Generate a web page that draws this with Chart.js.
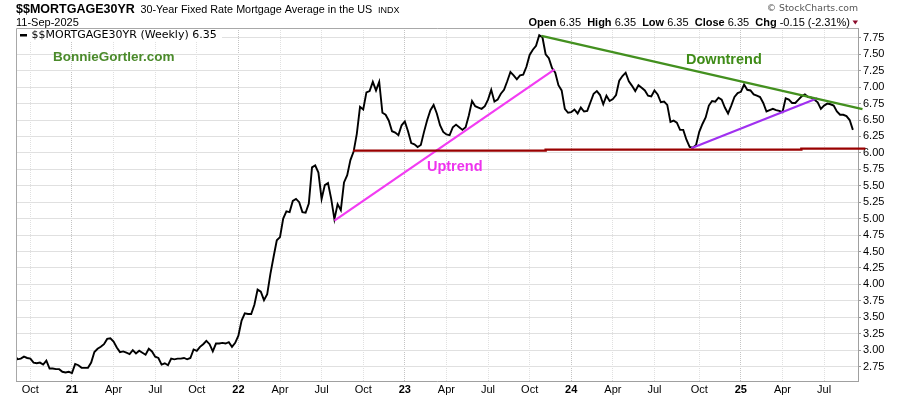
<!DOCTYPE html>
<html>
<head>
<meta charset="utf-8">
<script src="https://cdn.jsdelivr.net/npm/chart.js@4.4.1/dist/chart.umd.min.js"></script>
<style>
  html, body { margin: 0; padding: 0; background: #fff; }
</style>
</head>
<body>
<canvas id="chartCanvas" width="900" height="396"></canvas>
<script>
// weekly PMMS readings, one array per calendar year, first reading 3-Sep-2020
const firstWeek = '2020-09-03';
const rates2020 = [2.93, 2.86, 2.87, 2.90, 2.88, 2.87, 2.81, 2.80, 2.81, 2.78, 2.84, 2.72, 2.72, 2.71, 2.71, 2.67, 2.66, 2.67];
const rates2021 = [2.65, 2.79, 2.77, 2.73, 2.73, 2.73, 2.81, 2.97, 3.02, 3.05, 3.09, 3.17, 3.18, 3.13, 3.04, 2.97, 2.98,
    2.96, 2.94, 3.00, 2.95, 2.99, 2.96, 2.93, 3.02, 2.98, 2.90, 2.88, 2.78, 2.80, 2.77, 2.87, 2.86, 2.87, 2.87,
    2.88, 2.86, 2.88, 3.01, 2.99, 3.05, 3.09, 3.14, 3.09, 2.98, 3.10, 3.10, 3.11, 3.10, 3.12, 3.05, 3.11];
const rates2022 = [3.22, 3.45, 3.56, 3.55, 3.55, 3.69, 3.92, 3.89, 3.76, 3.85, 4.16, 4.42, 4.67, 4.72, 5.00, 5.11, 5.10,
    5.27, 5.30, 5.25, 5.10, 5.09, 5.23, 5.78, 5.81, 5.70, 5.30, 5.51, 5.54, 5.30, 4.99, 5.22, 5.13, 5.55, 5.66,
    5.89, 6.02, 6.29, 6.70, 6.66, 6.92, 6.94, 7.08, 6.95, 7.08, 6.61, 6.58, 6.49, 6.33, 6.31, 6.27, 6.42];
const rates2023 = [6.48, 6.33, 6.15, 6.13, 6.09, 6.12, 6.32, 6.50, 6.65, 6.73, 6.60, 6.42, 6.32, 6.28, 6.27, 6.39, 6.43,
    6.39, 6.35, 6.39, 6.57, 6.79, 6.71, 6.69, 6.67, 6.71, 6.81, 6.96, 6.78, 6.81, 6.90, 6.96, 7.09, 7.23, 7.18,
    7.12, 7.18, 7.19, 7.31, 7.49, 7.57, 7.63, 7.79, 7.76, 7.50, 7.44, 7.29, 7.22, 7.03, 6.95, 6.67, 6.61];
const rates2024 = [6.62, 6.66, 6.60, 6.69, 6.63, 6.64, 6.77, 6.90, 6.94, 6.88, 6.74, 6.87, 6.79, 6.82, 6.88, 7.10, 7.17,
    7.22, 7.09, 7.02, 6.94, 7.03, 6.99, 6.95, 6.87, 6.86, 6.95, 6.89, 6.77, 6.78, 6.73, 6.47, 6.49, 6.46, 6.35,
    6.35, 6.20, 6.09, 6.08, 6.12, 6.32, 6.44, 6.54, 6.72, 6.79, 6.78, 6.84, 6.81, 6.69, 6.60, 6.72, 6.85];
const rates2025 = [6.91, 6.93, 7.04, 6.96, 6.95, 6.89, 6.87, 6.85, 6.76, 6.63, 6.65, 6.67, 6.65, 6.64, 6.62, 6.83, 6.81,
    6.76, 6.76, 6.81, 6.86, 6.89, 6.85, 6.84, 6.81, 6.77, 6.67, 6.72, 6.75, 6.74, 6.72, 6.63, 6.58, 6.58, 6.56,
    6.50, 6.35];

// hand-drawn lines, [week number, rate]
const uptrendLine = [[100, 4.97], [168.8, 7.27]];
const downtrendLine = [[164.7, 7.78], [265.0, 6.665]];
const supportLine = [[105.8, 6.035], [166, 6.035], [166, 6.05], [245.9, 6.05], [245.9, 6.065], [265.9, 6.065]];
const risingLine = [[211.5, 6.07], [250.9, 6.83]];

const yTicks = [2.75, 3.00, 3.25, 3.50, 3.75, 4.00, 4.25, 4.50, 4.75, 5.00, 5.25, 5.50, 5.75, 6.00, 6.25, 6.50,
    6.75, 7.00, 7.25, 7.50, 7.75];
const quarterStarts = ['2020-10-01', '2021-01-01', '2021-04-01', '2021-07-01', '2021-10-01', '2022-01-01', '2022-04-01',
    '2022-07-01', '2022-10-01', '2023-01-01', '2023-04-01', '2023-07-01', '2023-10-01', '2024-01-01', '2024-04-01',
    '2024-07-01', '2024-10-01', '2025-01-01', '2025-04-01', '2025-07-01'];
const quarterLabels = ['Oct', '21', 'Apr', 'Jul', 'Oct', '22', 'Apr', 'Jul', 'Oct', '23', 'Apr', 'Jul', 'Oct', '24',
    'Apr', 'Jul', 'Oct', '25', 'Apr', 'Jul'];

document.addEventListener('DOMContentLoaded', () => {
    const ctx = document.getElementById('chartCanvas').getContext('2d');
    const DAY = 86400000;
    const t0 = Date.parse(firstWeek);
    const rates = [].concat(rates2020, rates2021, rates2022, rates2023, rates2024, rates2025);

    // a month's gridline sits on the first weekly bar whose week (Monday) starts inside that month
    const xTicks = quarterStarts.map(s => {
        const m = Date.parse(s);
        return rates.findIndex((v, i) => t0 + (7 * i - 3) * DAY >= m);
    });
    const yearTicks = new Set(xTicks.filter((v, i) => /^\d+$/.test(quarterLabels[i])));
    const isYear = c => !!(c.tick && yearTicks.has(c.tick.value));

    function trend(points, color, width) {
        return {
            data: points.map(p => ({ x: p[0], y: p[1] })),
            borderColor: color,
            borderWidth: width,
            pointRadius: 0,
            clip: false,
            order: 0
        };
    }

    const header = {
        id: 'header',
        afterDraw(chart) {
            const { ctx, chartArea: a, scales: { x, y } } = chart;
            ctx.save();

            // frame top and left
            ctx.strokeStyle = '#a8a8a8';
            ctx.lineWidth = 1;
            ctx.beginPath();
            ctx.moveTo(a.left + 0.5, a.bottom);
            ctx.lineTo(a.left + 0.5, a.top + 0.5);
            ctx.lineTo(a.right, a.top + 0.5);
            ctx.stroke();

            ctx.textBaseline = 'middle';
            ctx.textAlign = 'left';
            ctx.fillStyle = '#000';
            ctx.font = 'bold 12.5px "Liberation Sans"';
            ctx.fillText('$$MORTGAGE30YR', 16, 10);
            ctx.font = '10.8px "Liberation Sans"';
            ctx.fillText('30-Year Fixed Rate Mortgage Average in the US', 140.5, 10);
            ctx.font = '9px "Liberation Sans"';
            ctx.fillText('INDX', 378, 10.5);
            ctx.font = '11px "Liberation Sans"';
            ctx.fillText('11-Sep-2025', 16, 22.5);

            ctx.textAlign = 'right';
            ctx.fillStyle = '#555';
            ctx.font = '9.3px "DejaVu Sans"';
            ctx.fillText('\u00a9 StockCharts.com', 858, 9);

            const parts = [['Open', 1], [' 6.35  ', 0], ['High', 1], [' 6.35  ', 0], ['Low', 1], [' 6.35  ', 0],
                ['Close', 1], [' 6.35  ', 0], ['Chg', 1], [' -0.15 (-2.31%)', 0]];
            let w = 0;
            parts.forEach(p => {
                ctx.font = (p[1] ? 'bold ' : '') + '11px "Liberation Sans"';
                w += ctx.measureText(p[0]).width;
            });
            let px = 850 - w;
            ctx.textAlign = 'left';
            ctx.fillStyle = '#000';
            parts.forEach(p => {
                ctx.font = (p[1] ? 'bold ' : '') + '11px "Liberation Sans"';
                ctx.fillText(p[0], px, 22.5);
                px += ctx.measureText(p[0]).width;
            });
            ctx.fillStyle = '#8b0a2a';
            ctx.beginPath();
            ctx.moveTo(852.5, 20.5);
            ctx.lineTo(858, 20.5);
            ctx.lineTo(855.25, 24.5);
            ctx.closePath();
            ctx.fill();

            // legend
            ctx.fillStyle = '#fff';
            ctx.fillRect(17, 29, 205, 12);
            ctx.fillStyle = '#000';
            ctx.fillRect(20, 34, 7, 2.5);
            ctx.font = '11px "DejaVu Sans"';
            ctx.fillText('$$MORTGAGE30YR (Weekly) 6.35', 31.5, 35);

            ctx.font = 'bold 13.5px "Liberation Sans"';
            ctx.fillStyle = '#4a8a2a';
            ctx.fillText('BonnieGortler.com', 53, 57.5);

            ctx.textAlign = 'center';
            ctx.font = 'bold 14.5px "Liberation Sans"';
            ctx.fillStyle = '#3f8c18';
            ctx.fillText('Downtrend', x.getPixelForValue(221.7), y.getPixelForValue(7.42));
            ctx.fillStyle = '#ee33ee';
            ctx.fillText('Uptrend', x.getPixelForValue(137.6), y.getPixelForValue(5.79));
            ctx.restore();
        }
    };

    new Chart(ctx, {
        type: 'line',
        data: {
            datasets: [
                {
                    data: rates.map((v, i) => ({ x: i, y: v })),
                    borderColor: '#000',
                    borderWidth: 1.9,
                    pointRadius: 0,
                    order: 1
                },
                trend(supportLine, '#990000', 2.4),
                trend(downtrendLine, '#43901f', 2.2),
                trend(uptrendLine, '#f23cf2', 2.2),
                trend(risingLine, '#a030f0', 2.2)
            ]
        },
        options: {
            responsive: false,
            animation: false,
            devicePixelRatio: 1,
            layout: { padding: { top: 28, left: 16, right: 0, bottom: 0 } },
            elements: { line: { tension: 0 } },
            plugins: { legend: { display: false }, tooltip: { enabled: false } },
            scales: {
                x: {
                    type: 'linear',
                    min: 0.51,
                    max: 263.6,
                    afterBuildTicks: s => { s.ticks = xTicks.map(v => ({ value: v })); },
                    afterFit: s => { s.height = 15; },
                    ticks: {
                        autoSkip: false,
                        maxRotation: 0,
                        padding: 2,
                        color: '#000',
                        font: c => ({ family: 'Liberation Sans', size: 11, weight: isYear(c) ? 'bold' : 'normal' }),
                        callback: v => quarterLabels[xTicks.indexOf(v)]
                    },
                    grid: { drawTicks: false, color: c => isYear(c) ? '#c4c4c4' : '#e0e0e0' },
                    border: { color: '#a0a0a0', dash: [1, 1] }
                },
                y: {
                    position: 'right',
                    min: 2.53,
                    max: 7.9,
                    afterBuildTicks: s => { s.ticks = yTicks.map(v => ({ value: v })); },
                    afterFit: s => { s.width = 42; },
                    ticks: {
                        padding: 2,
                        color: '#000',
                        font: { family: 'Liberation Sans', size: 11 },
                        callback: v => v.toFixed(2)
                    },
                    grid: { color: '#e0e0e0', tickLength: 3, tickColor: '#999' },
                    border: { color: '#a0a0a0' }
                }
            }
        },
        plugins: [header]
    });
});
</script>
</body>
</html>
